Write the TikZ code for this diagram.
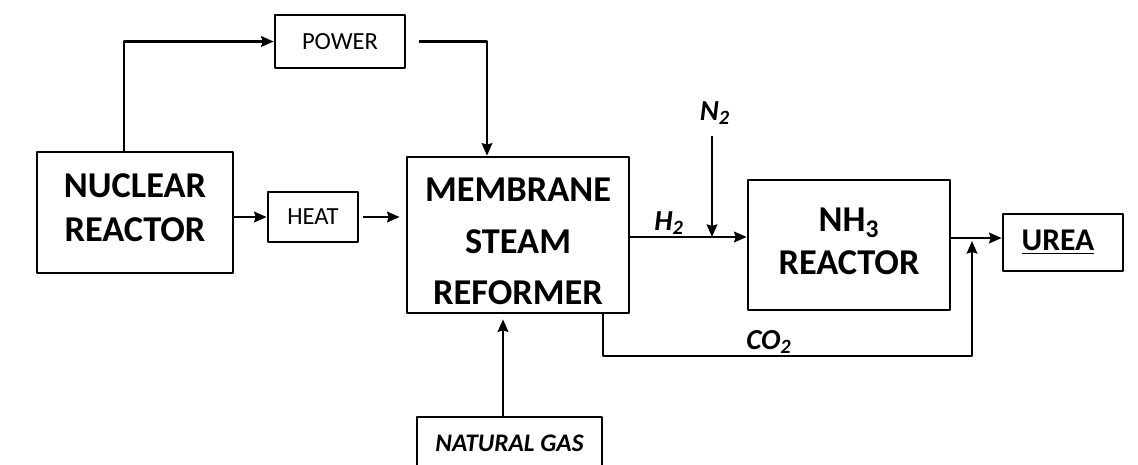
\documentclass[tikz,border=0pt]{standalone}
\usepackage{fontspec}
\setmainfont{Carlito}
\usetikzlibrary{arrows.meta}
\begin{document}
\begin{tikzpicture}[x=0.02cm, y=-0.02cm, line join=round, line width=1.5pt,
		>={Stealth[length=0.25cm, width=0.21cm, inset=0.03cm]},
		blk/.style={draw, inner sep=0pt, align=center},
		big/.style={font=\fontsize{20.7}{25.5}\selectfont\bfseries},
		small/.style={font=\fontsize{14}{17}\selectfont},
		lbl/.style={font=\fontsize{16.5}{19}\selectfont\bfseries\itshape, inner sep=0pt}]
	\clip (0, 0) rectangle (1138, 465);
	\fill[white] (0, 0) rectangle (1138, 465);
	% blocks
	\node[blk, big, text depth=0.2cm, minimum width=3.92cm, minimum height=2.42cm] (nuc) at (135, 212.5) {NUCLEAR\\REACTOR};
	\node[blk, small, minimum width=2.6cm, minimum height=1.06cm] (power) at (340, 41.5) {POWER};
	\node[blk, small, minimum width=1.8cm, minimum height=1cm] (heat) at (313, 217) {HEAT};
	\node[blk, minimum width=4.44cm, minimum height=3.12cm] (msr) at (518, 235) {};
	\node[align=center, font=\fontsize{20.7}{29.2}\selectfont\bfseries] (msrtext) at ([yshift=-0.13cm]msr.center) {MEMBRANE\\STEAM\\REFORMER};
	\node[blk, big, font=\fontsize{20.7}{24.5}\selectfont\bfseries, text depth=0.14cm, minimum width=4.04cm, minimum height=2.6cm] (nh3) at (849, 245) {NH\textsubscript{3}\\REACTOR};
	\node[blk, font=\fontsize{18}{21}\selectfont\bfseries, minimum width=2.4cm, minimum height=1.14cm] (urea) at (1063, 242.5) {\underline{UREA}\hspace{0.2cm}};
	\node[blk, font=\fontsize{14.4}{17}\selectfont\bfseries\itshape, minimum width=3.7cm, minimum height=1.04cm] (gas) at (509.5, 443) {NATURAL GAS};
	% stream labels
	\node[lbl] (n2) at (715, 113) {N\textsubscript{2}};
	\node[lbl] (h2) at (669, 223) {H\textsubscript{2}};
	\node[lbl] (co2) at (769, 342) {CO\textsubscript{2}};
	\coordinate (mix) at (712, 237);
	\coordinate (join) at (972, 238);
	\coordinate (bend) at (972, 356);
	% streams
	\draw[->] ([xshift=-0.22cm]nuc.north) |- (power.west);
	\draw[->, shorten <=0.26cm] (power.east) -| ([xshift=-0.62cm]msr.north);
	\draw[->] (nuc.east |- heat.west) -- (heat.west);
	\draw[->, shorten <=0.08cm, shorten >=0.12cm] (heat.east) -- (heat.east -| msr.west);
	\draw[->] (msr.east |- mix) -- (mix -| nh3.west);
	\draw[->, shorten <=0.2cm] (mix |- n2.south) -- (mix);
	\draw[->] (nh3.east |- join) -- (join -| urea.west);
	\draw[->] ([xshift=1.7cm]msr.south) |- (bend) -- ([yshift=-0.06cm]join);
	\draw[->, shorten >=0.1cm] ([xshift=-0.13cm]gas.north) -- ([xshift=-0.13cm]gas.north |- msr.south);
\end{tikzpicture}
\end{document}
